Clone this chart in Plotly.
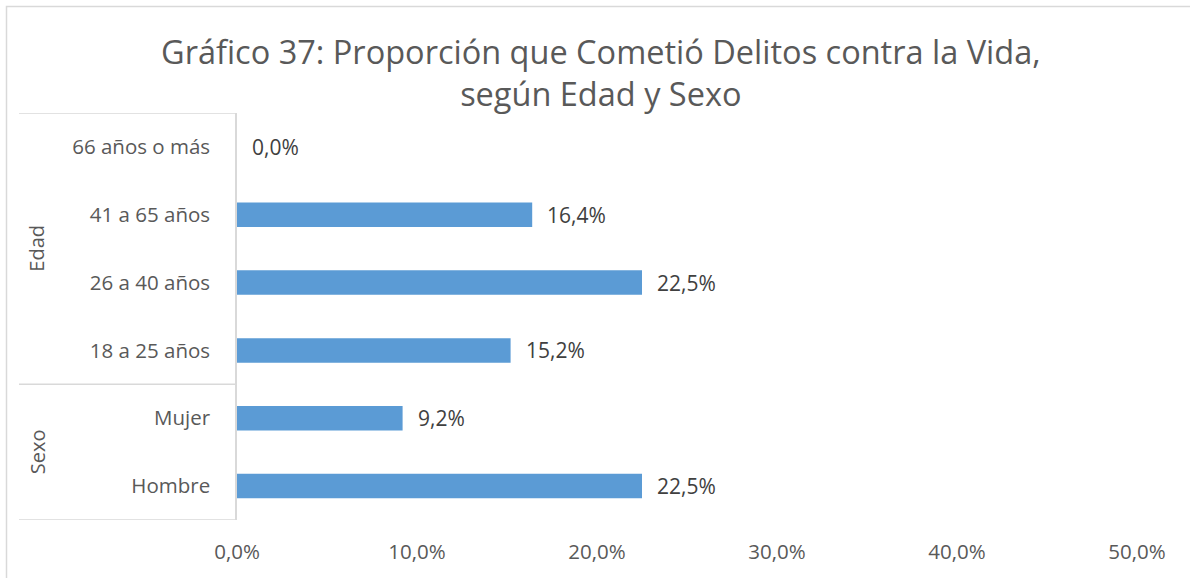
import plotly.graph_objects as go

# Data: share (%) that committed crimes against life, by age group and sex
categories = ["Hombre", "Mujer", "18 a 25 años", "26 a 40 años", "41 a 65 años", "66 años o más"]
groups = ["Sexo", "Sexo", "Edad", "Edad", "Edad", "Edad"]
values = [22.5, 9.2, 15.2, 22.5, 16.4, 0.0]
x_ticks = [0, 10, 20, 30, 40, 50]

BAR = "#5B9BD5"
TXT = "#595959"
LBL = "#404040"
LINE = "#D9D9D9"
FONT = "Open Sans"

W, H = 1190, 578
L, R, T, B = 237, 53, 113, 58
pw, ph = W - L - R, H - T - B


def px_to_paper_x(px):
    return (px - L) / pw


def px_to_paper_y(py):
    return 1 - (py - T) / ph


def fmt(v):
    return f"{v:.1f}".replace(".", ",") + "%"


ypos = list(range(len(categories)))

fig = go.Figure(
    go.Bar(
        x=values,
        y=ypos,
        orientation="h",
        marker=dict(color=BAR, line=dict(width=0)),
        width=0.36,
        hoverinfo="skip",
    )
)

# value labels to the right of each bar
for v, y in zip(values, ypos):
    fig.add_annotation(
        x=v, y=y, xref="x", yref="y", text=fmt(v), showarrow=False,
        xanchor="left", yanchor="middle", xshift=13,
        font=dict(family=FONT, size=21, color=LBL),
    )

# group labels (rotated) and separators of the category box
group_order = []
for g in groups:
    if g not in group_order:
        group_order.append(g)
edges = [-0.5]
for g in group_order:
    idx = [i for i, gg in enumerate(groups) if gg == g]
    lo, hi = min(idx) - 0.5, max(idx) + 0.5
    edges.append(hi)
    fig.add_annotation(
        x=px_to_paper_x(37), xref="paper", y=(lo + hi) / 2, yref="y",
        text=g, textangle=-90, showarrow=False,
        xanchor="center", yanchor="middle",
        font=dict(family=FONT, size=20, color=TXT),
    )

for e in edges:
    fig.add_shape(
        type="line", xref="paper", yref="y",
        x0=px_to_paper_x(19), x1=0, y0=e, y1=e,
        line=dict(color=LINE, width=1.5),
    )

# outer chart border
fig.add_shape(
    type="rect", xref="paper", yref="paper",
    x0=px_to_paper_x(6.5), x1=px_to_paper_x(W + 10),
    y0=px_to_paper_y(H + 10), y1=px_to_paper_y(6.5),
    line=dict(color=LINE, width=1.5), fillcolor="rgba(0,0,0,0)",
)

# title
fig.add_annotation(
    x=px_to_paper_x(601), xref="paper", y=px_to_paper_y(72), yref="paper",
    text="Gráfico 37: Proporción que Cometió Delitos contra la Vida,<br>según Edad y Sexo",
    showarrow=False, xanchor="center", yanchor="middle",
    font=dict(family=FONT, size=32.5, color=TXT),
)

fig.update_layout(
    width=W, height=H,
    margin=dict(l=L, r=R, t=T, b=B, pad=0),
    paper_bgcolor="white", plot_bgcolor="white",
    showlegend=False,
    xaxis=dict(
        range=[0, 50], tickvals=x_ticks, ticktext=[fmt(t) for t in x_ticks],
        showgrid=False, zeroline=False, showline=False, ticks="",
        ticklabelstandoff=17,
        tickfont=dict(family=FONT, size=20.5, color=TXT),
        fixedrange=True,
    ),
    yaxis=dict(
        range=[-0.5, len(categories) - 0.5],
        tickvals=ypos, ticktext=categories,
        showgrid=False, zeroline=False,
        showline=True, linecolor=LINE, linewidth=1.5,
        ticks="", ticklabelstandoff=21,
        tickfont=dict(family=FONT, size=20.5, color=TXT),
        fixedrange=True,
    ),
)

fig.write_html("out.html")
